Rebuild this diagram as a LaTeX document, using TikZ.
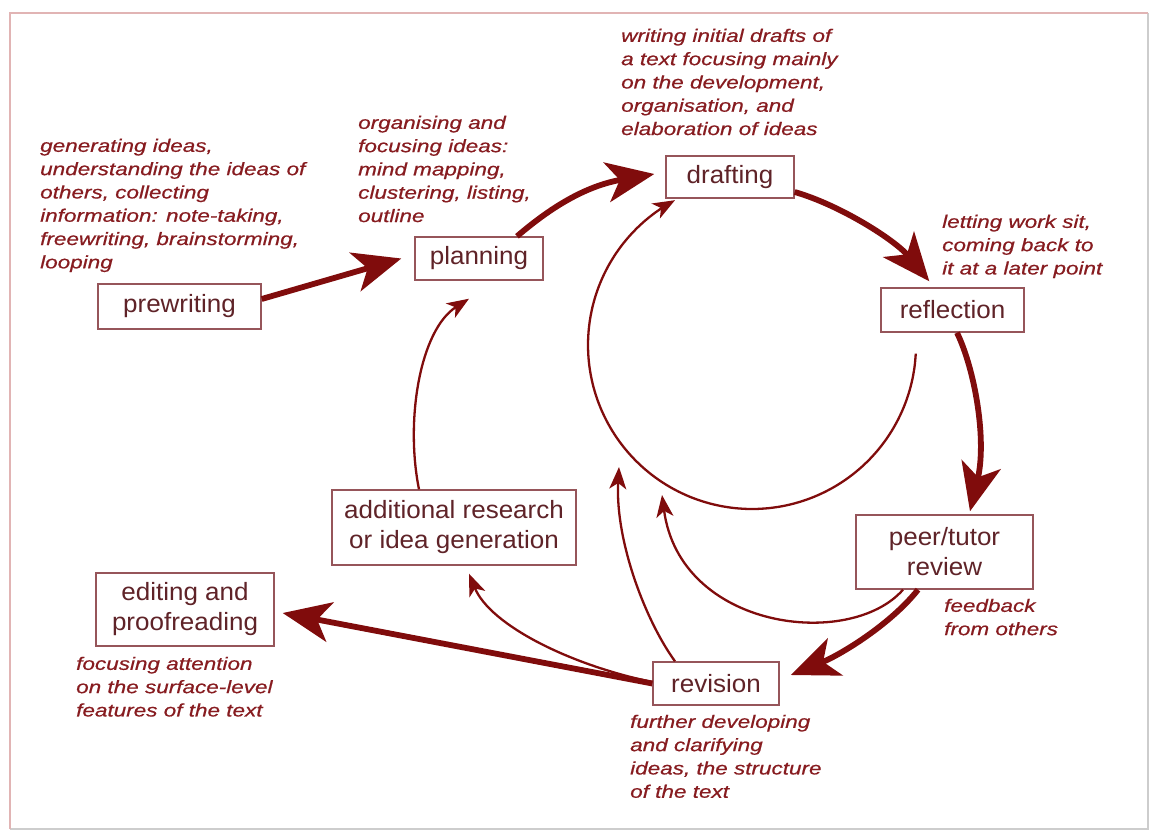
\documentclass[tikz,border=0pt]{standalone}
\usepackage{fontspec}
\setmainfont{Liberation Sans}
\newfontfamily\notefam[FakeStretch=1.25,FakeBold=0.6]{Liberation Sans}
\newfontfamily\boxfam[FakeStretch=1.04]{Liberation Sans}
\usetikzlibrary{arrows.meta}

\definecolor{arrowred}{RGB}{128,12,12}
\definecolor{notetext}{RGB}{135,28,32}
\definecolor{boxtext}{RGB}{95,35,40}
\definecolor{boxline}{RGB}{150,85,90}
\definecolor{framepink}{RGB}{225,180,180}
\definecolor{framegrey}{RGB}{205,205,205}

\tikzset{
  stage/.style={draw=boxline, line width=1.4pt, fill=white, text=boxtext,
    font=\boxfam\fontsize{25}{30}\selectfont, align=center, inner sep=0pt},
  note/.style={anchor=north west, inner sep=0pt, text=notetext, align=left,
    font=\notefam\itshape\fontsize{18}{23.3}\selectfont},
  bigarrow/.style={draw=arrowred, line width=5.8pt,
    -{Stealth[length=48pt,width=40pt,inset=13pt]}},
  thinarrow/.style={draw=arrowred, line width=2.3pt,
    -{Stealth[length=22pt,width=17pt,inset=6pt]}},
}

\begin{document}
\begin{tikzpicture}[x=1pt, y=-1pt]
\useasboundingbox (0,0) rectangle (1159,833);

% outer frame
\draw[framegrey, line width=1.2pt] (1148,13) -- (1148,829) -- (10,829);
\draw[framepink, line width=1.2pt] (10,829) -- (10,13) -- (1148,13);

% process stages
\node[stage, minimum width=163pt, minimum height=45pt] (prewriting) at (179.5,306.5) {prewriting};
\node[stage, minimum width=128pt, minimum height=43pt] (planning) at (479,258.5) {planning};
\node[stage, minimum width=128pt, minimum height=42pt] (drafting) at (730,177) {drafting};
\node[stage, minimum width=143pt, minimum height=44pt] (reflection) at (952.5,310) {reflection};
\node[stage, minimum width=177pt, minimum height=74pt] (peer) at (944.5,552) {peer/tutor\\review};
\node[stage, minimum width=126pt, minimum height=43pt] (revision) at (716,683.5) {revision};
\node[stage, minimum width=244pt, minimum height=75pt] (additional) at (454,527.5) {additional research\\or idea generation};
\node[stage, minimum width=178pt, minimum height=73pt] (editing) at (185,609.5) {editing and\\proofreading};

% descriptions
\node[note] (n-pre) at (40,138.6) {generating ideas,\\understanding the ideas of\\others, collecting\\information: note-taking,\\freewriting, brainstorming,\\looping};
\node[note] (n-plan) at (358,115.6) {organising and\\focusing ideas:\\mind mapping,\\clustering, listing,\\outline};
\node[note] (n-draft) at (621,28.6) {writing initial drafts of\\a text focusing mainly\\on the development,\\organisation, and\\elaboration of ideas};
\node[note] (n-refl) at (942,214.6) {letting work sit,\\coming back to\\it at a later point};
\node[note] (n-peer) at (944,598.6) {feedback\\from others};
\node[note] (n-rev) at (630,714.6) {further developing\\and clarifying\\ideas, the structure\\of the text};
\node[note] (n-edit) at (76,656.6) {focusing attention\\on the surface-level\\features of the text};

% free ends of the return arrows
\coordinate (hTip) at (619,467);
\coordinate (iTip) at (662,495);
\coordinate (loop) at (752,345);

% main cycle
\draw[bigarrow] ([yshift=7.5pt]prewriting.east) -- ([xshift=-13pt]planning.west);
\draw[bigarrow] ([xshift=38pt]planning.north) .. controls (550,208) and (585,186) .. ([xshift=-11pt,yshift=3pt]drafting.west);
\draw[bigarrow] ([yshift=-15pt]drafting.east) .. controls (840,205) and (895,240) .. ([xshift=49pt,yshift=6pt]reflection.north west);
\draw[bigarrow] ([xshift=4.5pt]reflection.south) .. controls (975,370) and (987,440) .. ([xshift=25.5pt,yshift=3pt]peer.north);
\draw[bigarrow] ([xshift=-26.5pt]peer.south) .. controls (890,625) and (840,655) .. ([xshift=11pt,yshift=8.5pt]revision.east);
\draw[bigarrow] (revision.west) -- ([xshift=8pt,yshift=-3.5pt]editing.east);

% loops back
\draw[thinarrow] ([yshift=1.5pt]revision.west) .. controls (570,665) and (490,625) .. ([xshift=15pt,yshift=-8pt]additional.south);
\draw[thinarrow] ([xshift=-41pt]revision.north) .. controls (645,620) and (615,540) .. (hTip);
\draw[thinarrow] ([xshift=-41.5pt]peer.south) .. controls (850,650) and (680,630) .. (iTip);
\draw[thinarrow] (additional.north) ++(-35pt,0) .. controls (405,420) and (420,330) .. ([xshift=-10pt,yshift=-18pt]planning.south);
\draw[thinarrow, shift={(loop)}] plot[smooth, domain=3:242, samples=60, variable=\t] (\t:164);
\end{tikzpicture}
\end{document}
